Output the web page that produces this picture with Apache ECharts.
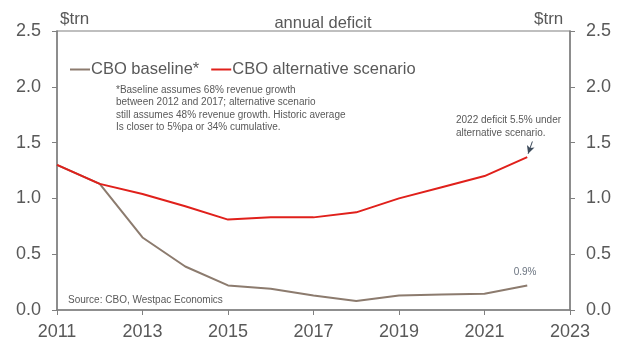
<!DOCTYPE html>
<html>
<head>
<meta charset="utf-8">
<script src="https://cdn.jsdelivr.net/npm/echarts@6/dist/echarts.min.js"></script>
<style>
  html, body { margin: 0; padding: 0; background: #fff; }
  #chart { width: 624px; height: 341px; }
</style>
</head>
<body>
<div id="chart"></div>
<script>
// US federal deficit projections, $trn
const years = [2011, 2012, 2013, 2014, 2015, 2016, 2017, 2018, 2019, 2020, 2021, 2022];
const baseline = [1.30, 1.13, 0.65, 0.39, 0.22, 0.19, 0.13, 0.08, 0.13, 0.14, 0.145, 0.22];
const alternative = [1.30, 1.13, 1.04, 0.93, 0.81, 0.83, 0.83, 0.875, 1.00, 1.10, 1.20, 1.37];
const yTicks = [0, 0.5, 1.0, 1.5, 2.0, 2.5];
const xTicks = [2011, 2013, 2015, 2017, 2019, 2021, 2023];

const textGrey = '#595959';
const axisGrey = '#808080';
const font = 'Liberation Sans, Arial, sans-serif';

const chart = echarts.init(document.getElementById('chart'));

const yAxisBase = {
  type: 'value',
  min: yTicks[0],
  max: yTicks[yTicks.length - 1],
  interval: 0.5,
  axisLine: { show: true, lineStyle: { color: axisGrey, width: 1.5 } },
  axisTick: { show: true, length: 5, lineStyle: { color: axisGrey, width: 1 } },
  splitLine: { show: false },
  axisLabel: { color: textGrey, fontSize: 18, fontFamily: font, margin: 16,
               formatter: v => v.toFixed(1) }
};

chart.setOption({
  animation: false,
  backgroundColor: '#fff',
  grid: { left: 57, right: 54, top: 31, bottom: 29, show: true,
          borderColor: axisGrey, borderWidth: 1.2, containLabel: false },
  title: {
    text: 'annual deficit', left: 318, top: 10, textAlign: 'center',
    textStyle: { color: textGrey, fontSize: 16.5, fontWeight: 'normal', fontFamily: font }
  },
  legend: {
    left: 65, top: 56, itemWidth: 20, itemHeight: 2, itemGap: 12,
    icon: 'rect',
    textStyle: { color: textGrey, fontSize: 16.5, fontFamily: font, padding: [0, 0, 0, -4] },
    data: ['CBO baseline*', 'CBO alternative scenario']
  },
  xAxis: {
    type: 'value', min: 2011, max: 2023, interval: 2,
    axisLine: { show: true, onZero: false, lineStyle: { color: axisGrey, width: 1.5 } },
    axisTick: { show: true, length: 5, lineStyle: { color: axisGrey } },
    splitLine: { show: false },
    axisLabel: { color: textGrey, fontSize: 18, fontFamily: font, margin: 13,
                 formatter: v => String(v) }
  },
  yAxis: [
    Object.assign({}, yAxisBase, { position: 'left' }),
    Object.assign({}, yAxisBase, { position: 'right' })
  ],
  graphic: [
    { type: 'text', left: 60, top: 11,
      style: { text: '$trn', fill: textGrey, fontSize: 17, fontFamily: font } },
    { type: 'text', left: 534, top: 11,
      style: { text: '$trn', fill: textGrey, fontSize: 17, fontFamily: font } },
    { type: 'text', left: 116, top: 84,
      style: { text: '*Baseline assumes 68% revenue growth\nbetween 2012 and 2017; alternative scenario\nstill assumes 48% revenue growth. Historic average\nIs closer to 5%pa or 34% cumulative.',
               fill: textGrey, fontSize: 10, lineHeight: 12.3, fontFamily: font } },
    { type: 'text', left: 456, top: 114,
      style: { text: '2022 deficit 5.5% under\nalternative scenario.',
               fill: textGrey, fontSize: 10, lineHeight: 13, fontFamily: font } },
    { type: 'text', left: 68, top: 295,
      style: { text: 'Source: CBO, Westpac Economics', fill: textGrey, fontSize: 10, fontFamily: font } }
  ],
  series: [
    {
      name: 'CBO baseline*', type: 'line', symbol: 'none', z: 2,
      color: '#8c7b6e',
      lineStyle: { color: '#8c7b6e', width: 2 },
      data: years.map((y, i) => [y, baseline[i]]),
      markPoint: {
        symbol: 'circle', symbolSize: 0,
        label: { show: true, position: 'top', distance: 8, color: '#6b7480', fontSize: 10, fontFamily: font,
                 formatter: '0.9%' },
        data: [{ coord: [years[years.length - 1] - 0.05, baseline[baseline.length - 1]] }]
      }
    },
    {
      name: 'CBO alternative scenario', type: 'line', symbol: 'none', z: 3,
      color: '#e0201b',
      lineStyle: { color: '#e0201b', width: 2 },
      data: years.map((y, i) => [y, alternative[i]]),
      markLine: {
        silent: true, symbol: ['none', 'arrow'], symbolSize: [6, 8],
        label: { show: false },
        lineStyle: { color: '#3c4a5a', width: 1, type: 'solid' },
        data: [[{ coord: [2022.12, 1.51] }, { coord: [2022.02, 1.40] }]]
      }
    }
  ]
});
</script>
</body>
</html>
